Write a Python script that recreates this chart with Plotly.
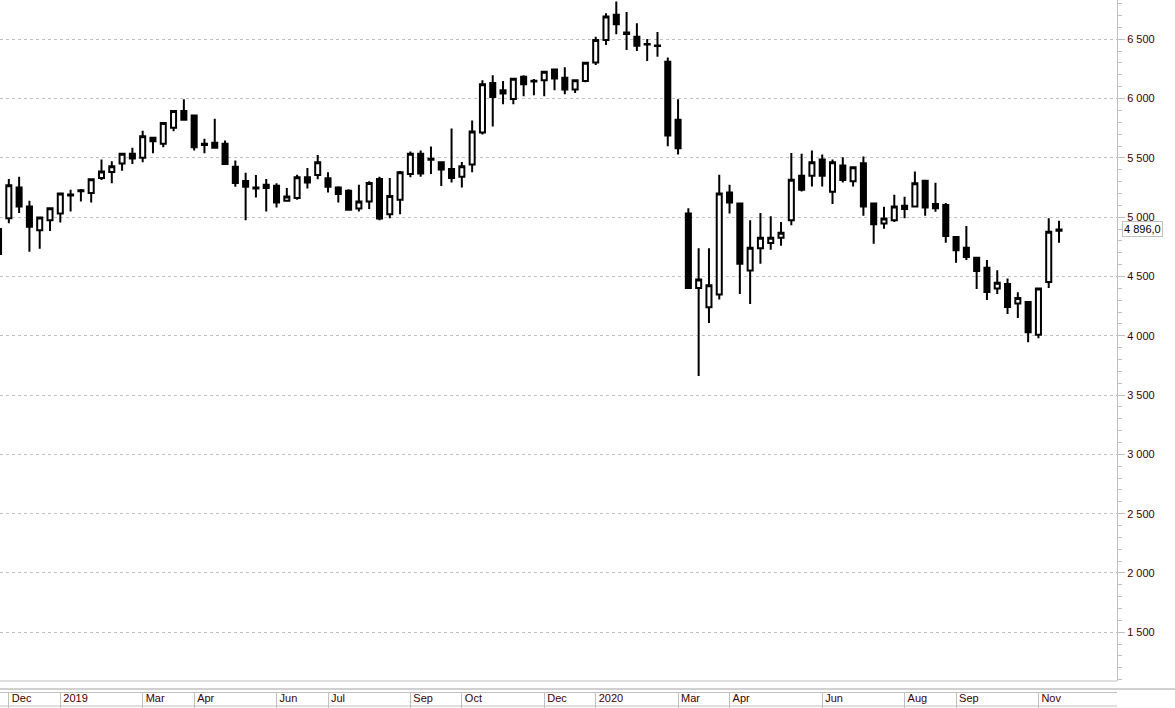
import pandas as pd
import plotly.graph_objects as go

# weekly bars (dated by week start)
weeks = pd.date_range("2018-11-25", periods=104, freq="7D")

open_ = [4900, 4991, 5251, 5090, 4890, 4974, 5030, 5192, 5218, 5203,
         5330, 5381, 5452, 5534, 5500, 5669, 5619, 5754, 5895, 5858,
         5618, 5627, 5619, 5426, 5305, 5250, 5274, 5265, 5138, 5161,
         5336, 5356, 5327, 5251, 5223, 5073, 5132, 5322, 5025, 5146,
         5364, 5534, 5492, 5463, 5407, 5341, 5443, 5714, 6132, 6070,
         5997, 6183, 6150, 6155, 6246, 6175, 6076, 6149, 6305, 6494,
         6706, 6558, 6522, 6460, 6448, 6310, 5822, 5030, 4403, 4240,
         4347, 5208, 5115, 4551, 4737, 4782, 4827, 4974, 5350, 5350,
         5486, 5214, 5435, 5302, 5454, 5115, 4946, 4974, 5096, 5090,
         5308, 5110, 5102, 4833, 4742, 4658, 4573, 4398, 4437, 4271,
         4285, 4008, 4454, 4885]
high = [4915, 5322, 5341, 5138, 5000, 5080, 5205, 5231, 5237, 5325,
        5486, 5471, 5540, 5585, 5729, 5675, 5800, 5900, 5994, 5865,
        5661, 5830, 5647, 5477, 5375, 5356, 5322, 5285, 5246, 5358,
        5415, 5525, 5378, 5260, 5235, 5274, 5302, 5341, 5330, 5390,
        5553, 5562, 5596, 5470, 5748, 5466, 5816, 6155, 6197, 6147,
        6170, 6197, 6164, 6230, 6254, 6263, 6160, 6305, 6522, 6720,
        6819, 6729, 6636, 6502, 6562, 6347, 5994, 5076, 4737, 4737,
        5358, 5274, 5120, 4974, 5034, 5008, 4960, 5542, 5534, 5562,
        5528, 5486, 5505, 5425, 5511, 5120, 5087, 5189, 5172, 5384,
        5315, 5291, 5119, 4840, 4926, 4665, 4638, 4553, 4483, 4367,
        4290, 4405, 4991, 4969]
low = [4670, 4949, 5034, 4708, 4734, 4884, 4954, 5047, 5132, 5124,
       5313, 5285, 5392, 5449, 5463, 5539, 5590, 5725, 5815, 5562,
       5539, 5580, 5440, 5257, 4974, 5166, 5047, 5081, 5135, 5146,
       5242, 5319, 5208, 5124, 5055, 5047, 5068, 4974, 4991, 5025,
       5336, 5341, 5364, 5263, 5293, 5251, 5378, 5697, 5765, 5952,
       5952, 6019, 6028, 6019, 6070, 6036, 6047, 6138, 6282, 6452,
       6542, 6409, 6401, 6316, 6353, 5598, 5528, 4400, 3660, 4107,
       4305, 5030, 4352, 4268, 4607, 4725, 4759, 4932, 5217, 5259,
       5259, 5110, 5293, 5259, 5011, 4776, 4903, 4960, 4991, 5085,
       5011, 5045, 4785, 4615, 4638, 4395, 4302, 4352, 4183, 4149,
       3946, 3980, 4403, 4785]
close = [4690, 5268, 5090, 4920, 4997, 5076, 5200, 5182, 5226, 5319,
         5386, 5429, 5534, 5494, 5683, 5641, 5793, 5895, 5822, 5590,
         5608, 5585, 5449, 5288, 5257, 5242, 5246, 5124, 5174, 5336,
         5293, 5463, 5257, 5195, 5062, 5132, 5288, 4988, 5178, 5378,
         5534, 5369, 5484, 5401, 5330, 5429, 5723, 6121, 6014, 6042,
         6166, 6121, 6144, 6225, 6170, 6076, 6155, 6302, 6494, 6692,
         6627, 6545, 6446, 6456, 6444, 5689, 5581, 4403, 4474, 4426,
         5200, 5124, 4607, 4742, 4827, 4827, 4869, 5316, 5231, 5463,
         5350, 5463, 5313, 5420, 5090, 4941, 4988, 5090, 5068, 5285,
         5081, 5076, 4841, 4720, 4663, 4545, 4369, 4446, 4242, 4319,
         4030, 4398, 4878, 4896]

month_ticks = ["2018-12-02", "2019-01-06", "2019-03-03", "2019-04-07",
               "2019-06-02", "2019-07-07", "2019-09-01", "2019-10-06",
               "2019-12-01", "2020-01-05", "2020-03-01", "2020-04-05",
               "2020-06-07", "2020-08-02", "2020-09-06", "2020-11-01"]
month_labels = ["Dec", "2019", "Mar", "Apr", "Jun", "Jul", "Sep", "Oct",
                "Dec", "2020", "Mar", "Apr", "Jun", "Aug", "Sep", "Nov"]

GRID = "#c0c0c0"
TXT = "#400000"
FONT = "Liberation Sans, Arial, sans-serif"

fig = go.Figure(go.Candlestick(
    x=weeks, open=open_, high=high, low=low, close=close,
    increasing=dict(line=dict(color="black", width=2), fillcolor="white"),
    decreasing=dict(line=dict(color="black", width=2), fillcolor="black"),
    whiskerwidth=0,
))

y_bottom = 11 / 692  # plot-area bottom within paper

fig.update_layout(
    width=1175, height=708,
    margin=dict(l=0, r=58, t=0, b=16),
    paper_bgcolor="white", plot_bgcolor="white",
    showlegend=False, separators=", ", boxgap=0.3,
    font=dict(family=FONT, size=11, color=TXT),
    xaxis=dict(
        type="date", range=["2018-11-26", "2020-12-24 10:00"],
        rangeslider=dict(visible=False),
        anchor="free", position=0,
        showline=True, linecolor=GRID, linewidth=1,
        showgrid=False, zeroline=False,
        tickmode="array", tickvals=month_ticks, ticktext=month_labels,
        ticks="outside", ticklen=15, tickcolor=GRID, tickwidth=1,
        ticklabelposition="outside right", ticklabelstandoff=-4,
        ticklabelshift=2,
        tickfont=dict(family=FONT, size=11, color=TXT),
    ),
    yaxis=dict(
        side="right", domain=[y_bottom, 1], range=[1089, 6831],
        tick0=0, dtick=500, tickformat=",d",
        showgrid=True, gridcolor=GRID, griddash="3px,3px", gridwidth=1,
        showline=True, linecolor=GRID, linewidth=1,
        ticks="outside", ticklen=7, tickcolor=GRID, tickwidth=1,
        minor=dict(dtick=100, ticks="outside", ticklen=4, tickcolor=GRID,
                   showgrid=False),
        zeroline=False,
        tickfont=dict(family=FONT, size=11, color=TXT),
    ),
)

# frame lines of the bottom date strip
fig.add_shape(type="line", xref="paper", yref="paper", x0=0, x1=1,
              y0=y_bottom, y1=y_bottom, line=dict(color=GRID, width=1))
fig.add_shape(type="line", xref="paper", yref="paper", x0=0, x1=1.06,
              y0=3 / 692, y1=3 / 692, line=dict(color="#a0a0a0", width=1))
fig.add_shape(type="line", xref="paper", yref="paper", x0=0, x1=1,
              y0=-14 / 692, y1=-14 / 692, line=dict(color=GRID, width=1))

last = close[-1]
label = f"{last:,.1f}".replace(",", " ").replace(".", ",")
fig.add_annotation(xref="paper", x=1, xanchor="left", xshift=5,
                   yref="y", y=last, text=label, showarrow=False,
                   bordercolor=GRID, borderwidth=1, borderpad=1,
                   bgcolor="white", font=dict(family=FONT, size=11, color="black"))

fig.write_html("out.html", config={"displayModeBar": False},
               post_script="document.body.style.margin='0';document.body.style.overflow='hidden';")
